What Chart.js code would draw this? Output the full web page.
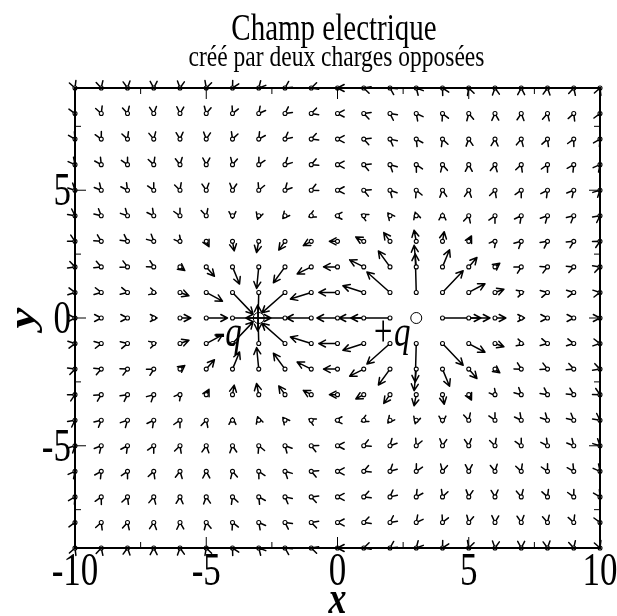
<!DOCTYPE html>
<html>
<head>
<meta charset="utf-8">
<title>Champ electrique</title>
<script src="https://cdn.jsdelivr.net/npm/chart.js@4.4.0/dist/chart.umd.min.js"></script>
<style>
  html, body { margin: 0; padding: 0; background: #fff; }
  #wrap { width: 617px; height: 616px; }
</style>
</head>
<body>
<div id="wrap"><canvas id="chart" width="617" height="616"></canvas></div>
<script>
// Grid of sample points (tails of the arrows)
const gridX = [-10, -9, -8, -7, -6, -5, -4, -3, -2, -1, 0, 1, 2, 3, 4, 5, 6, 7, 8, 9, 10];
const gridY = [-9, -8, -7, -6, -5, -4, -3, -2, -1, 0, 1, 2, 3, 4, 5, 6, 7, 8, 9];

// The two point charges
const chargeX = [-3, 3];
const chargeY = [0, 0];
const chargeQ = [-1, 1];
const chargeLabels = ['-q', '+q'];

// Axis ticks
const xTicks = [-10, -5, 0, 5, 10];
const yTicks = [-5, 0, 5];
const xMinorTicks = [-7.5, -2.5, 2.5, 7.5];
const yMinorTicks = [-7.5, -2.5, 2.5, 7.5];

const titleText = 'Champ electrique';
const subtitleText = 'créé par deux charges opposées';

// arrow length (px) grows with log of the field, zero below FIELD_FLOOR
const ARROW_GAIN = 12;
const FIELD_FLOOR = 0.04;
const HEAD_LEN = 7.5;
const HEAD_ANGLE = 0.48;

// Build the field samples from the charges (Coulomb field)
function buildField() {
    const pts = [];
    gridY.forEach(gy => {
        gridX.forEach(gx => {
            let ex = 0, ey = 0, skip = false;
            for (let i = 0; i < chargeX.length; i++) {
                const dx = gx - chargeX[i];
                const dy = gy - chargeY[i];
                const r = Math.sqrt(dx * dx + dy * dy);
                if (r < 1e-6) { skip = true; break; }
                ex += chargeQ[i] * dx / (r * r * r);
                ey += chargeQ[i] * dy / (r * r * r);
            }
            if (!skip) pts.push({ x: gx, y: gy, ex: ex, ey: ey });
        });
    });
    return pts;
}

const fieldPoints = buildField();
const chargePoints = chargeX.map((cx, i) => ({ x: cx, y: chargeY[i] }));

const SERIF = '"Liberation Serif", "DejaVu Serif", serif';

function stretchedText(ctx, text, x, y, font, align, stretch, rotate) {
    ctx.save();
    ctx.translate(x, y);
    ctx.scale(1, stretch);
    if (rotate) ctx.rotate(rotate);
    ctx.font = font;
    ctx.textAlign = align;
    ctx.textBaseline = rotate ? 'middle' : 'alphabetic';
    ctx.fillStyle = '#000';
    ctx.fillText(text, 0, 0);
    ctx.restore();
}

// Arrows drawn from the scatter data via the chart scales
const arrowPlugin = {
    id: 'arrows',
    beforeDatasetsDraw(chart) {
        const ctx = chart.ctx;
        const xs = chart.scales.x, ys = chart.scales.y;
        ctx.save();
        ctx.strokeStyle = '#000';
        ctx.lineWidth = 1.5;
        ctx.lineCap = 'round';
        ctx.lineJoin = 'round';
        chart.data.datasets[0].data.forEach(p => {
            const e = Math.sqrt(p.ex * p.ex + p.ey * p.ey);
            if (e === 0) return;
            const ux = p.ex / e, uy = -p.ey / e;
            const len = Math.max(0, ARROW_GAIN * Math.log(e / FIELD_FLOOR));
            const tx = xs.getPixelForValue(p.x);
            const ty = ys.getPixelForValue(p.y);
            const hx = tx + ux * len, hy = ty + uy * len;
            ctx.beginPath();
            ctx.moveTo(tx, ty);
            ctx.lineTo(hx, hy);
            [HEAD_ANGLE, -HEAD_ANGLE].forEach(a => {
                const c = Math.cos(a), s = Math.sin(a);
                const bx = -(ux * c - uy * s), by = -(ux * s + uy * c);
                ctx.moveTo(hx, hy);
                ctx.lineTo(hx + bx * HEAD_LEN, hy + by * HEAD_LEN);
            });
            ctx.stroke();
        });
        ctx.restore();
    }
};

// Frame, ticks, labels, titles
const decorPlugin = {
    id: 'decor',
    afterDraw(chart) {
        const ctx = chart.ctx;
        const a = chart.chartArea;
        const xs = chart.scales.x, ys = chart.scales.y;
        ctx.save();
        ctx.strokeStyle = '#000';
        ctx.lineWidth = 1;
        const tick = (vals, len, horiz) => {
            vals.forEach(v => {
                ctx.beginPath();
                if (horiz) {
                    const px = xs.getPixelForValue(v);
                    ctx.moveTo(px, a.bottom); ctx.lineTo(px, a.bottom - len);
                    ctx.moveTo(px, a.top); ctx.lineTo(px, a.top + len);
                } else {
                    const py = ys.getPixelForValue(v);
                    ctx.moveTo(a.left, py); ctx.lineTo(a.left + len, py);
                    ctx.moveTo(a.right, py); ctx.lineTo(a.right - len, py);
                }
                ctx.stroke();
            });
        };
        tick(xTicks, 11, true);
        tick(xMinorTicks, 6, true);
        tick(yTicks, 11, false);
        tick(yMinorTicks, 6, false);

        ctx.lineWidth = 2;
        ctx.strokeRect(a.left, a.top, a.right - a.left, a.bottom - a.top);
        ctx.restore();

        const tickFont = '35px ' + SERIF;
        xTicks.forEach(v => {
            stretchedText(ctx, String(v), xs.getPixelForValue(v), a.bottom + 37, tickFont, 'center', 1.3);
        });
        yTicks.forEach(v => {
            stretchedText(ctx, String(v), a.left - 4, ys.getPixelForValue(v) + 15, tickFont, 'right', 1.3);
        });

        const labFont = 'italic bold 36px ' + SERIF;
        stretchedText(ctx, 'x', xs.getPixelForValue(0), a.bottom + 65, labFont, 'center', 1.3);
        stretchedText(ctx, 'y', 25, ys.getPixelForValue(0), labFont, 'center', 1.3, -Math.PI / 2);

        stretchedText(ctx, titleText, 334, 40, '29px ' + SERIF, 'center', 1.3);
        stretchedText(ctx, subtitleText, 336.5, 66, '23.5px ' + SERIF, 'center', 1.25);

        const qFont = 'italic 33px ' + SERIF;
        stretchedText(ctx, chargeLabels[0], xs.getPixelForValue(-3.65), ys.getPixelForValue(-1.1), qFont, 'right', 1.35);
        stretchedText(ctx, chargeLabels[1], xs.getPixelForValue(1.3), ys.getPixelForValue(-1.1), qFont, 'left', 1.35);
    }
};

new Chart(document.getElementById('chart'), {
    type: 'scatter',
    data: {
        datasets: [
            {
                label: 'champ',
                data: fieldPoints,
                pointRadius: 2,
                pointBackgroundColor: '#fff',
                pointBorderColor: '#000',
                pointBorderWidth: 1.1,
                clip: false
            },
            {
                label: 'charges',
                data: chargePoints,
                pointRadius: 5.5,
                pointBackgroundColor: 'rgba(0,0,0,0)',
                pointBorderColor: '#000',
                pointBorderWidth: 1,
                clip: false
            }
        ]
    },
    options: {
        responsive: false,
        animation: false,
        devicePixelRatio: 1,
        layout: { padding: { left: 75, right: 17, top: 88, bottom: 68 } },
        scales: {
            x: { type: 'linear', min: -10, max: 10, display: false },
            y: { type: 'linear', min: -9, max: 9, display: false }
        },
        plugins: {
            legend: { display: false },
            tooltip: { enabled: false }
        },
        events: []
    },
    plugins: [arrowPlugin, decorPlugin]
});
</script>
</body>
</html>
